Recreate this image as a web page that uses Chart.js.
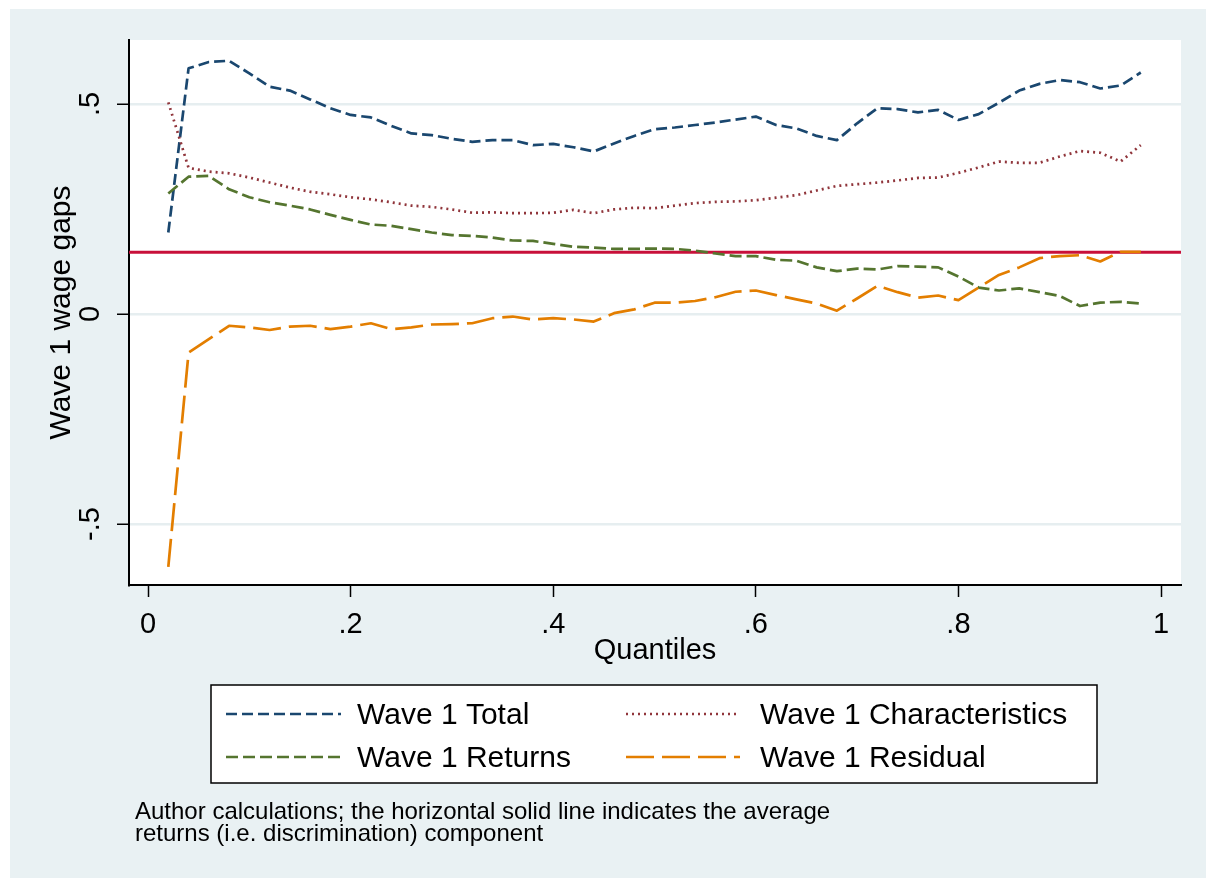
<!DOCTYPE html>
<html>
<head>
<meta charset="utf-8">
<title>Wave 1 wage gaps by quantile</title>
<script src="https://cdn.jsdelivr.net/npm/chart.js@4.4.1/dist/chart.umd.min.js"></script>
<style>
  html, body { margin: 0; padding: 0; background: #ffffff; }
  #wrap { width: 1206px; height: 878px; position: relative; }
</style>
</head>
<body>
<div id="wrap"><canvas id="chart" width="1206" height="878"></canvas></div>
<script>
// Quantiles at which the decomposition was estimated
const quantiles = [
  0.02, 0.04, 0.06, 0.08, 0.10, 0.12, 0.14, 0.16, 0.18, 0.20,
  0.22, 0.24, 0.26, 0.28, 0.30, 0.32, 0.34, 0.36, 0.38, 0.40,
  0.42, 0.44, 0.46, 0.48, 0.50, 0.52, 0.54, 0.56, 0.58, 0.60,
  0.62, 0.64, 0.66, 0.68, 0.70, 0.72, 0.74, 0.76, 0.78, 0.80,
  0.82, 0.84, 0.86, 0.88, 0.90, 0.92, 0.94, 0.96, 0.98
];

// Wave 1 total wage gap
const totalGap = [
  0.194, 0.585, 0.600, 0.603, 0.573, 0.541, 0.532, 0.511, 0.490, 0.474,
  0.468, 0.448, 0.430, 0.426, 0.417, 0.410, 0.414, 0.414, 0.402, 0.405,
  0.397, 0.387, 0.406, 0.424, 0.440, 0.444, 0.450, 0.456, 0.463, 0.470,
  0.450, 0.442, 0.424, 0.414, 0.454, 0.490, 0.488, 0.480, 0.486, 0.462,
  0.476, 0.503, 0.532, 0.548, 0.557, 0.552, 0.537, 0.544, 0.575
];

// Characteristics component
const characteristics = [
  0.504, 0.348, 0.339, 0.335, 0.325, 0.313, 0.301, 0.291, 0.285, 0.278,
  0.273, 0.266, 0.258, 0.255, 0.249, 0.241, 0.242, 0.240, 0.240, 0.241,
  0.248, 0.240, 0.249, 0.253, 0.252, 0.258, 0.264, 0.267, 0.268, 0.271,
  0.277, 0.283, 0.294, 0.305, 0.309, 0.313, 0.318, 0.324, 0.325, 0.336,
  0.349, 0.363, 0.360, 0.360, 0.375, 0.388, 0.384, 0.363, 0.402
];

// Returns (discrimination) component
const returnsPart = [
  0.287, 0.327, 0.329, 0.297, 0.278, 0.266, 0.258, 0.249, 0.236, 0.224,
  0.213, 0.210, 0.202, 0.194, 0.188, 0.186, 0.182, 0.175, 0.174, 0.167,
  0.160, 0.158, 0.155, 0.155, 0.156, 0.155, 0.151, 0.144, 0.138, 0.138,
  0.129, 0.127, 0.111, 0.102, 0.108, 0.106, 0.114, 0.113, 0.111, 0.089,
  0.063, 0.056, 0.061, 0.052, 0.043, 0.019, 0.027, 0.029, 0.025
];

// Residual component
const residual = [
  -0.602, -0.092, -0.060, -0.028, -0.032, -0.038, -0.030, -0.028, -0.036, -0.030,
  -0.022, -0.036, -0.032, -0.025, -0.024, -0.022, -0.010, -0.006, -0.013, -0.010,
  -0.013, -0.018, 0.002, 0.011, 0.027, 0.027, 0.031, 0.040, 0.053, 0.056,
  0.045, 0.035, 0.025, 0.008, 0.037, 0.067, 0.052, 0.039, 0.044, 0.033,
  0.063, 0.093, 0.111, 0.133, 0.138, 0.140, 0.125, 0.148, 0.148
];

// Average returns component, drawn as the horizontal reference line
const avgReturns = 0.147;

// Axis ticks and labels
const xTickValues = [0, 0.2, 0.4, 0.6, 0.8, 1];
const xTickLabels = ['0', '.2', '.4', '.6', '.8', '1'];
const yTickValues = [-0.5, 0, 0.5];
const yTickLabels = ['-.5', '0', '.5'];

const seriesLabels = ['Wave 1 Total', 'Wave 1 Characteristics', 'Wave 1 Returns', 'Wave 1 Residual'];
const xTitle = 'Quantiles';
const yTitle = 'Wave 1 wage gaps';
const noteLines = [
  'Author calculations; the horizontal solid line indicates the average',
  'returns (i.e. discrimination) component'
];

// Axis ranges
const X_MIN = -0.0188, X_MAX = 1.0197;
const Y_MIN = -0.6452, Y_MAX = 0.6524;

const FONT = '"Liberation Sans", Arial, Helvetica, sans-serif';
const toPoints = (ys) => quantiles.map((q, i) => ({ x: q, y: ys[i] }));

// Page background, white plot region
const backgroundPlugin = {
  id: 'backgroundPlugin',
  beforeDraw(chart) {
    const { ctx, chartArea } = chart;
    ctx.save();
    ctx.fillStyle = '#ffffff';
    ctx.fillRect(0, 0, chart.width, chart.height);
    ctx.fillStyle = '#e9f1f3';
    ctx.fillRect(10, 9, chart.width - 10, chart.height - 9);
    ctx.fillStyle = '#ffffff';
    ctx.fillRect(chartArea.left, chartArea.top,
                 chartArea.right - chartArea.left, chartArea.bottom - chartArea.top);
    ctx.restore();
  }
};

// Boxed two-column legend and the note underneath
const legendNotePlugin = {
  id: 'legendNotePlugin',
  afterDraw(chart) {
    const { ctx } = chart;
    const ds = chart.data.datasets.slice(0, 4);
    ctx.save();
    // box
    ctx.fillStyle = '#ffffff';
    ctx.fillRect(211, 685, 886, 98);
    ctx.strokeStyle = '#000000';
    ctx.lineWidth = 1.5;
    ctx.strokeRect(211, 685, 886, 98);

    const cols = [{ x0: 226, x1: 341, tx: 357 }, { x0: 626, x1: 740, tx: 760 }];
    const rows = [714, 757];
    ds.forEach((d, i) => {
      const c = cols[i % 2];
      const y = rows[Math.floor(i / 2)];
      ctx.beginPath();
      ctx.setLineDash(d.borderDash || []);
      ctx.lineDashOffset = 0;
      ctx.strokeStyle = d.borderColor;
      ctx.lineWidth = d.borderWidth;
      ctx.lineCap = 'butt';
      ctx.moveTo(c.x0, y);
      ctx.lineTo(c.x1, y);
      ctx.stroke();
      ctx.setLineDash([]);
      ctx.fillStyle = '#000000';
      ctx.font = '30px ' + FONT;
      ctx.textAlign = 'left';
      ctx.textBaseline = 'middle';
      ctx.fillText(d.label, c.tx, y + 2);
    });

    // note
    ctx.fillStyle = '#000000';
    ctx.font = '24px ' + FONT;
    ctx.textAlign = 'left';
    ctx.textBaseline = 'alphabetic';
    ctx.fillText(noteLines[0], 135, 819);
    ctx.fillText(noteLines[1], 135, 841);
    ctx.restore();
  }
};

const ctx = document.getElementById('chart').getContext('2d');
new Chart(ctx, {
  type: 'line',
  data: {
    datasets: [
      {
        label: seriesLabels[0],
        data: toPoints(totalGap),
        borderColor: '#1a476f',
        borderWidth: 2.7,
        borderDash: [11, 5],
        order: 4
      },
      {
        label: seriesLabels[1],
        data: toPoints(characteristics),
        borderColor: '#90353b',
        borderWidth: 2.7,
        borderDash: [2, 4],
        order: 3
      },
      {
        label: seriesLabels[2],
        data: toPoints(returnsPart),
        borderColor: '#55752f',
        borderWidth: 2.7,
        borderDash: [12, 5],
        order: 2
      },
      {
        label: seriesLabels[3],
        data: toPoints(residual),
        borderColor: '#e37e00',
        borderWidth: 2.7,
        borderDash: [28, 8],
        order: 1
      },
      {
        label: 'average returns',
        data: [{ x: X_MIN, y: avgReturns }, { x: X_MAX, y: avgReturns }],
        borderColor: '#c8103a',
        borderWidth: 2.8,
        order: 5
      }
    ]
  },
  options: {
    responsive: false,
    animation: false,
    devicePixelRatio: 1,
    layout: { padding: { left: 10, top: 40, right: 25, bottom: 208 } },
    elements: {
      point: { radius: 0, hoverRadius: 0 },
      line: { tension: 0, fill: false, borderCapStyle: 'butt', borderJoinStyle: 'round' }
    },
    plugins: {
      legend: { display: false },
      tooltip: { enabled: false },
      title: { display: false }
    },
    scales: {
      x: {
        type: 'linear',
        position: 'bottom',
        min: X_MIN,
        max: X_MAX,
        afterBuildTicks(scale) { scale.ticks = xTickValues.map(v => ({ value: v })); },
        afterFit(scale) { scale.height = 85; },
        border: { display: true, color: '#000000', width: 2 },
        grid: {
          display: true,
          drawOnChartArea: false,
          drawTicks: true,
          tickLength: 12,
          tickColor: '#000000',
          tickWidth: 1.5
        },
        ticks: {
          autoSkip: false,
          maxRotation: 0,
          minRotation: 0,
          padding: 11,
          color: '#000000',
          font: { family: FONT, size: 29 },
          callback(value) {
            const i = xTickValues.findIndex(v => Math.abs(v - value) < 1e-9);
            return i >= 0 ? xTickLabels[i] : '';
          }
        },
        title: {
          display: true,
          text: xTitle,
          color: '#000000',
          font: { family: FONT, size: 29 },
          padding: { top: 0, bottom: 2 }
        }
      },
      y: {
        type: 'linear',
        position: 'left',
        min: Y_MIN,
        max: Y_MAX,
        afterBuildTicks(scale) { scale.ticks = yTickValues.map(v => ({ value: v })); },
        afterFit(scale) { scale.width = 119; },
        border: { display: true, color: '#000000', width: 2 },
        grid: {
          display: true,
          drawOnChartArea: true,
          color: '#e6eef0',
          lineWidth: 2.5,
          drawTicks: true,
          tickLength: 12,
          tickColor: '#000000',
          tickWidth: 1.5
        },
        ticks: {
          autoSkip: false,
          minRotation: 90,
          maxRotation: 90,
          crossAlign: 'center',
          padding: 9,
          color: '#000000',
          font: { family: FONT, size: 29 },
          callback(value) {
            const i = yTickValues.findIndex(v => Math.abs(v - value) < 1e-9);
            return i >= 0 ? yTickLabels[i] : '';
          }
        },
        title: {
          display: true,
          text: yTitle,
          color: '#000000',
          font: { family: FONT, size: 30 },
          padding: { top: 34, bottom: 0 }
        }
      }
    }
  },
  plugins: [backgroundPlugin, legendNotePlugin]
});
</script>
</body>
</html>
